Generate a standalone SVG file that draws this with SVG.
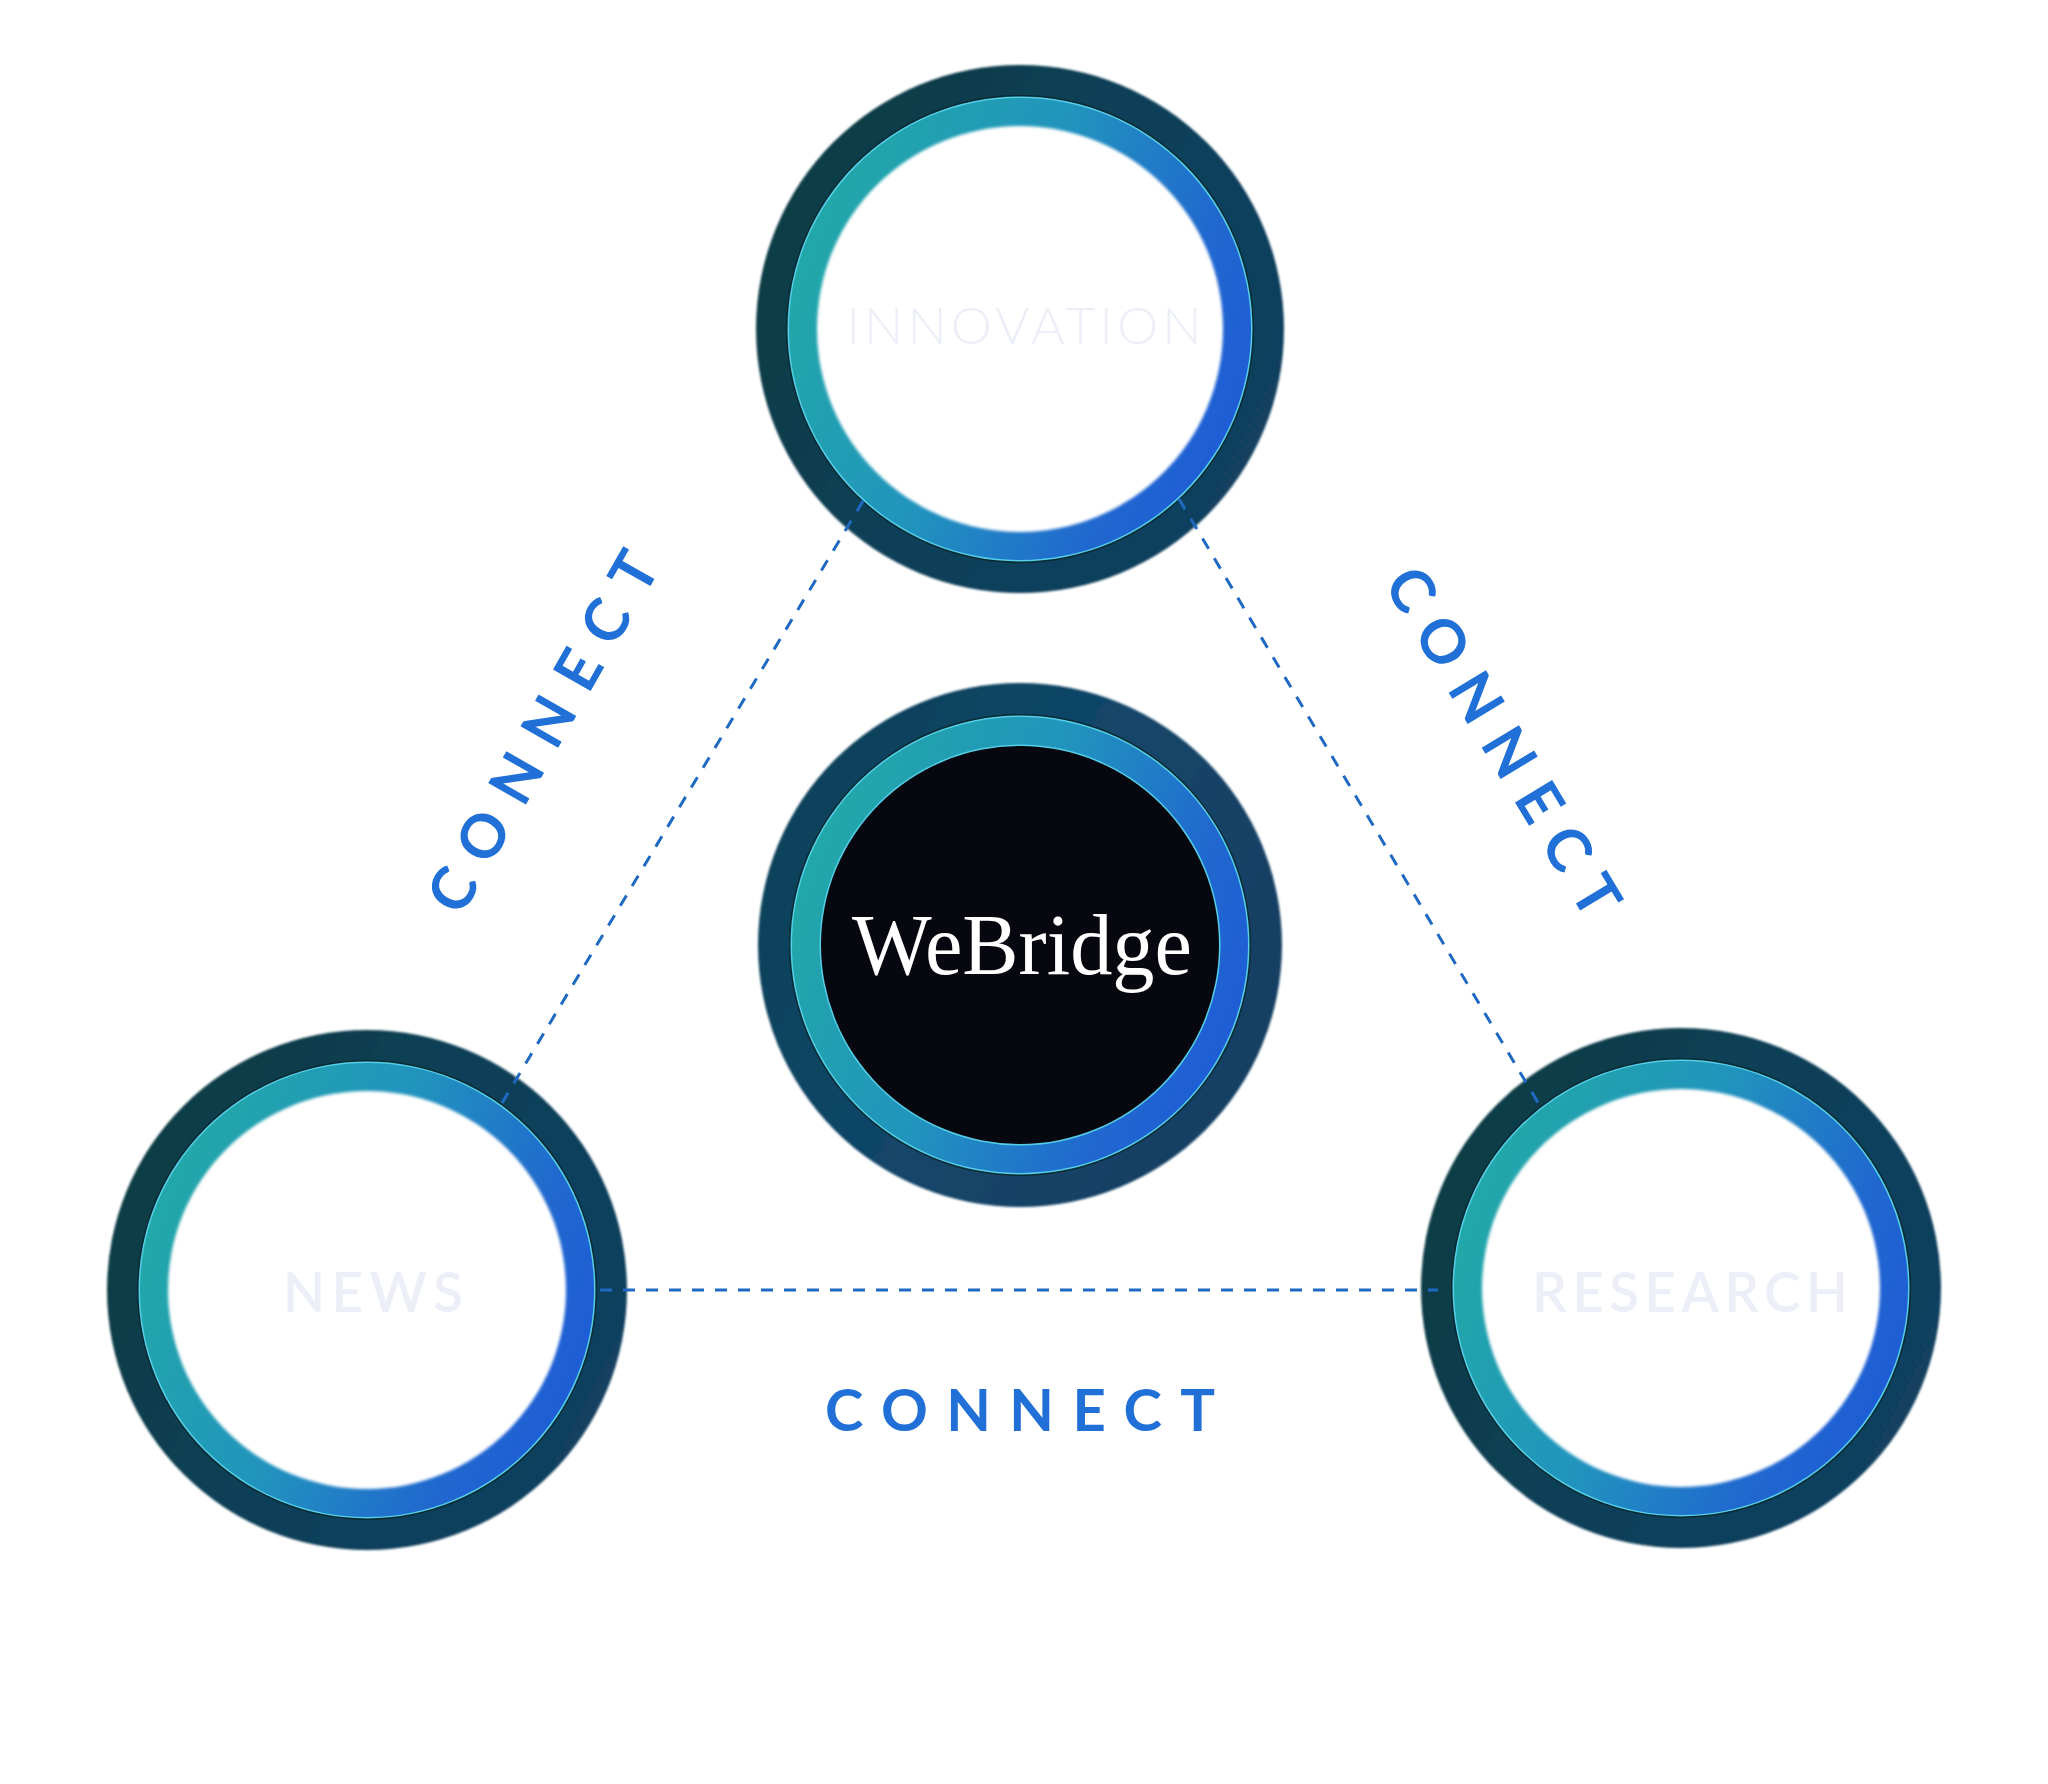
<svg xmlns="http://www.w3.org/2000/svg" width="2048" height="1784" viewBox="0 0 2048 1784">
<defs>
<linearGradient id="outerG" x1="0" y1="0.2" x2="1" y2="0.7">
<stop offset="0" stop-color="#0e3c42"/>
<stop offset="0.5" stop-color="#104058"/>
<stop offset="1" stop-color="#123f5f"/>
</linearGradient>
<linearGradient id="outerC" x1="0" y1="0.2" x2="1" y2="0.7">
<stop offset="0" stop-color="#0f4258"/>
<stop offset="0.5" stop-color="#12466a"/>
<stop offset="1" stop-color="#123f62"/>
</linearGradient>
<linearGradient id="ringG" x1="0" y1="0.25" x2="1" y2="0.65">
<stop offset="0" stop-color="#22aaa6"/>
<stop offset="0.45" stop-color="#2194bd"/>
<stop offset="0.8" stop-color="#2068cf"/>
<stop offset="1" stop-color="#1e5cd6"/>
</linearGradient>
<filter id="soft" x="-5%" y="-5%" width="110%" height="110%">
<feGaussianBlur stdDeviation="1.6"/>
</filter>
<filter id="soft1" x="-5%" y="-5%" width="110%" height="110%">
<feGaussianBlur stdDeviation="0.9"/>
</filter>
</defs>
<style>
.outer{fill:url(#outerG);filter:url(#soft1)}
.line{fill:#082a33}
.hl{fill:#55cfe8}
.ring{fill:url(#ringG)}
.hole{fill:#ffffff;filter:url(#soft)}
.lbl{font-family:Lato,"Noto Sans","Liberation Sans",sans-serif;fill:#eceff7;text-anchor:middle}
.con{font-family:Lato,"Noto Sans","Liberation Sans",sans-serif;font-weight:700;fill:#2070d8;text-anchor:middle}
.dash{fill:none;stroke:#1f69c2;stroke-width:3;stroke-dasharray:12 11}
</style>
<rect width="2048" height="1784" fill="#ffffff"/>

<g id="innovation">
<circle class="outer" cx="1020" cy="329" r="264"/>
<circle class="line" cx="1020" cy="329" r="234"/>
<circle class="hl" cx="1020" cy="329" r="232.5"/>
<circle class="ring" cx="1020" cy="329" r="231"/>
<circle class="hole" cx="1020" cy="329" r="203"/>
<text class="lbl" x="1024" y="344" font-size="52" font-weight="300" textLength="355" lengthAdjust="spacing">INNOVATION</text>
</g>

<g id="webridge">
<circle class="outer" cx="1020" cy="945" r="262" style="fill:url(#outerC)"/>
<circle class="line" cx="1020" cy="945" r="231"/>
<circle class="hl" cx="1020" cy="945" r="229.5"/>
<circle class="ring" cx="1020" cy="945" r="228"/>
<circle class="hl" cx="1020" cy="945" r="200.5"/>
<circle cx="1020" cy="945" r="199" fill="#07080f"/>
<text x="1022" y="974" font-family="'Liberation Serif','DejaVu Serif',serif" font-size="86" fill="#ffffff" text-anchor="middle" textLength="340" lengthAdjust="spacingAndGlyphs">WeBridge</text>
</g>

<g id="news">
<circle class="outer" cx="367" cy="1290" r="260"/>
<circle class="line" cx="367" cy="1290" r="230"/>
<circle class="hl" cx="367" cy="1290" r="228.5"/>
<circle class="ring" cx="367" cy="1290" r="227"/>
<circle class="hole" cx="367" cy="1290" r="199"/>
<text class="lbl" x="373" y="1312" font-size="55" font-weight="600" textLength="180" lengthAdjust="spacing">NEWS</text>
</g>

<g id="research">
<circle class="outer" cx="1681" cy="1288" r="260"/>
<circle class="line" cx="1681" cy="1288" r="230"/>
<circle class="hl" cx="1681" cy="1288" r="228.5"/>
<circle class="ring" cx="1681" cy="1288" r="227"/>
<circle class="hole" cx="1681" cy="1288" r="199"/>
<text class="lbl" x="1690" y="1312" font-size="55" font-weight="600" textLength="316" lengthAdjust="spacing">RESEARCH</text>
</g>

<g id="connectors">
<line class="dash" x1="863" y1="501" x2="502" y2="1103"/>
<line class="dash" x1="1179" y1="499" x2="1540" y2="1106"/>
<line class="dash" x1="600" y1="1290" x2="1438" y2="1290"/>
<text class="con" transform="translate(543,732) rotate(-60.3)" x="0" y="21" font-size="60" textLength="404" lengthAdjust="spacing">CONNECT</text>
<text class="con" transform="translate(1503,742) rotate(58.9)" x="0" y="21" font-size="60" textLength="396" lengthAdjust="spacing">CONNECT</text>
<text class="con" x="1020" y="1431" font-size="58" textLength="390" lengthAdjust="spacing">CONNECT</text>
</g>
</svg>
